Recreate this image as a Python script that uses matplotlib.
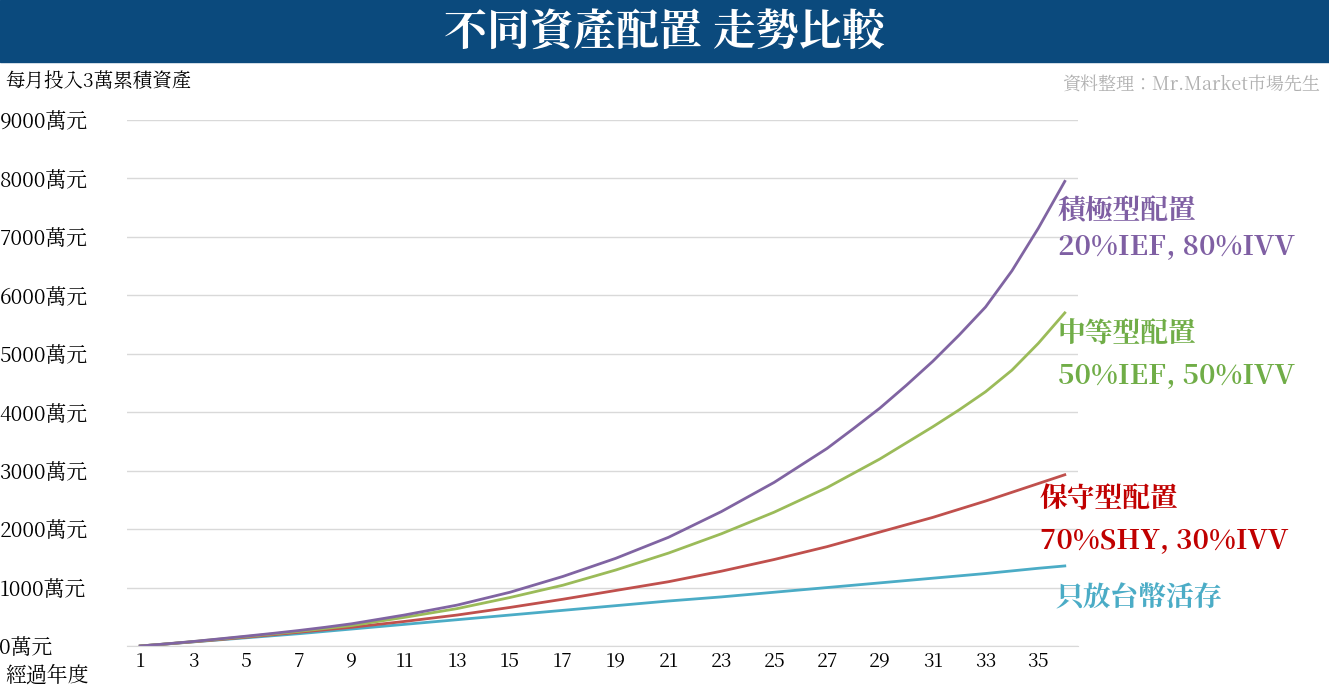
import matplotlib
matplotlib.use("Agg")
import matplotlib.pyplot as plt
from matplotlib import font_manager

cjk = [f.name for f in font_manager.fontManager.ttflist if "CJK" in f.name]
pref = [n for n in cjk if "TC" in n] or cjk
plt.rcParams["font.family"] = (pref[:1] if pref else []) + ["DejaVu Sans"]

years = list(range(1, 37))
# accumulated assets (萬元)
cash = [0, 35, 70, 105, 140, 175, 210, 250, 290, 330, 370, 410, 450, 490, 530, 570,
        610, 650, 690, 730, 770, 805, 840, 880, 920, 960, 1000, 1040, 1080, 1120,
        1160, 1200, 1240, 1285, 1330, 1370]
conservative = [0, 35, 72, 110, 150, 192, 235, 278, 320, 370, 420, 475, 530, 595, 660, 730,
                800, 875, 950, 1025, 1100, 1190, 1280, 1380, 1480, 1590, 1700, 1825, 1950,
                2075, 2200, 2340, 2480, 2630, 2780, 2930]
moderate = [0, 36, 75, 118, 160, 205, 250, 300, 350, 420, 490, 565, 640, 735, 830, 935,
            1040, 1170, 1300, 1445, 1590, 1755, 1920, 2105, 2290, 2500, 2710, 2955, 3200,
            3475, 3750, 4040, 4350, 4720, 5180, 5700]
aggressive = [0, 37, 77, 122, 168, 215, 265, 320, 380, 455, 530, 615, 700, 810, 920, 1055,
              1190, 1345, 1500, 1680, 1860, 2080, 2300, 2550, 2800, 3090, 3380, 3720, 4070,
              4460, 4870, 5320, 5800, 6420, 7150, 7950]

y_ticks = list(range(0, 10000, 1000))
x_ticks = list(range(1, 37, 2))

fig = plt.figure(figsize=(13.29, 6.96), dpi=100)
fig.patch.set_facecolor("white")

# title banner
fig.patches.append(plt.Rectangle((0, 1 - 62 / 696), 1, 62 / 696, transform=fig.transFigure,
                                 color="#0b4a7d", zorder=0))
fig.text(0.5, 1 - 33 / 696, "不同資產配置 走勢比較", color="white", fontsize=31,
         fontweight="bold", ha="center", va="center")
fig.text(5 / 1329, 1 - 83 / 696, "每月投入3萬累積資產", fontsize=14, ha="left", va="center")
fig.text(1320 / 1329, 1 - 85 / 696, "資料整理：Mr.Market市場先生", fontsize=13,
         color="#b0b0b0", ha="right", va="center")

ax = fig.add_axes([127 / 1329, 50 / 696, (1078 - 127) / 1329, (646 - 120) / 696])
ax.plot(years, cash, color="#4bacc6", lw=2)
ax.plot(years, conservative, color="#c0504d", lw=2)
ax.plot(years, moderate, color="#9bbb59", lw=2)
ax.plot(years, aggressive, color="#8064a2", lw=2)

ax.set_xlim(0.5, 36.5)
ax.set_ylim(0, 9000)
ax.set_yticks(y_ticks)
ax.set_yticklabels([f"{v}萬元" for v in y_ticks], fontsize=15)
ax.set_xticks(x_ticks)
ax.set_xticklabels([str(v) for v in x_ticks], fontsize=14)
ax.grid(axis="y", color="#d9d9d9", lw=1)
ax.set_axisbelow(True)
for s in ["top", "right", "left"]:
    ax.spines[s].set_visible(False)
ax.spines["bottom"].set_color("#d9d9d9")
ax.tick_params(length=0, pad=4)
for lbl in ax.get_yticklabels():
    lbl.set_horizontalalignment("left")
    lbl.set_x(-122 / 951)
fig.text(5 / 1329, 1 - 676 / 696, "經過年度", fontsize=15, ha="left", va="center")

labels = [
    (1058, 212, "積極型配置", "#7f5fa3"), (1058, 246, "20%IEF, 80%IVV", "#7f5fa3"),
    (1058, 335, "中等型配置", "#70ad47"), (1058, 375, "50%IEF, 50%IVV", "#70ad47"),
    (1040, 500, "保守型配置", "#c00000"), (1040, 540, "70%SHY, 30%IVV", "#c00000"),
    (1055, 598, "只放台幣活存", "#4bacc6"),
]
for x, y, t, c in labels:
    fig.text(x / 1329, 1 - y / 696, t, fontsize=20, fontweight="bold", color=c,
             ha="left", va="center")

fig.savefig("out.png", dpi=100)
